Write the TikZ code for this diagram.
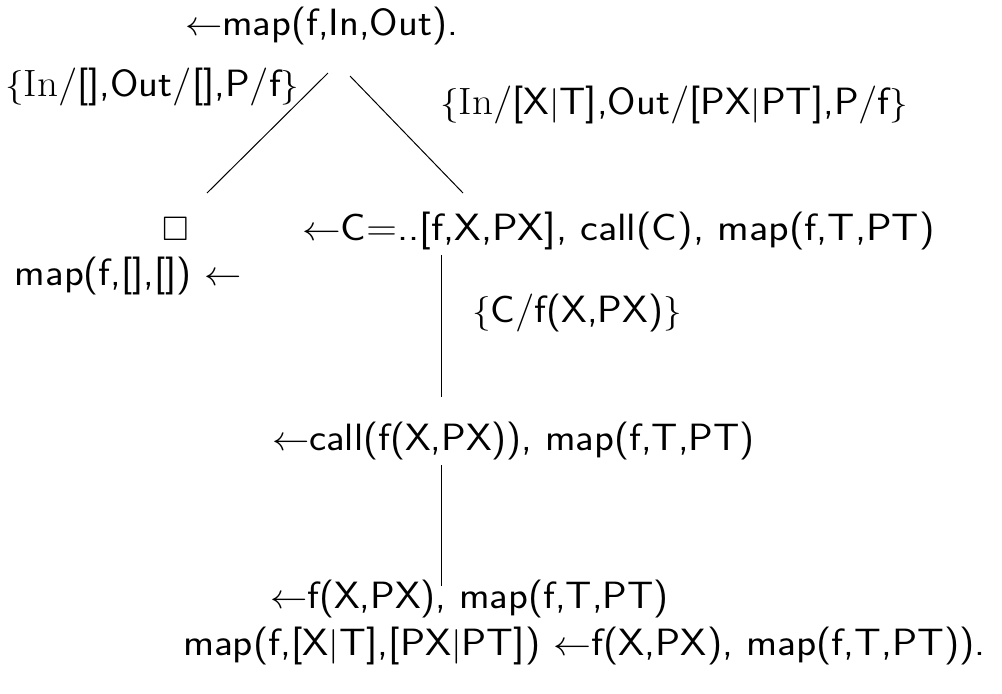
\documentclass[tikz,border=0pt]{standalone}
\usepackage{amssymb}
\usepackage{graphicx}
% slightly widened sans text
\newcommand{\wide}[1]{\scalebox{1.08}[1]{#1}}
\begin{document}
\begin{tikzpicture}[x=0.5pt,y=-0.5pt,
  txt/.style={font=\sffamily\fontsize{19}{22}\selectfont, inner sep=0pt, outer sep=0pt, anchor=base west},
  edge/.style={line width=0.5pt}]
\useasboundingbox (0,0) rectangle (1002,693);

% goals and clauses of the derivation
\node[txt] (root)  at (185,35)  {\wide{$\leftarrow$map(f,In,Out).}};
\node[txt] (subL)  at (5,96)    {\wide{$\{${\rmfamily In}/[],Out/[],P/f$\}$}};
\node[txt] (subR)  at (440,114) {\wide{$\{${\rmfamily In}/[X$|$T],Out/[PX$|$PT],P/f$\}$}};
\node[txt, anchor=center, font=\fontsize{17}{20}\selectfont] (empty) at (176,229) {$\Box$};
\node[txt] (goalC) at (302,240) {\scalebox{1.12}[1]{$\leftarrow$C=..[f,X,PX], call(C), map(f,T,PT)}};
\node[txt] (fact)  at (15,285)  {\wide{map(f,[],[]) $\leftarrow$}};
\node[txt] (subC)  at (472,322) {\wide{$\{$C/f(X,PX)$\}$}};
\node[txt] (goalK) at (272,450) {\wide{$\leftarrow$call(f(X,PX)), map(f,T,PT)}};
\node[txt] (goalF) at (270,608) {\wide{$\leftarrow$f(X,PX), map(f,T,PT)}};
\node[txt] (rule)  at (183,655) {\scalebox{1.10}[1]{map(f,[X$|$T],[PX$|$PT]) $\leftarrow$f(X,PX), map(f,T,PT)).}};

% branch end points
\coordinate (rL0) at (328,73);
\coordinate (rL1) at (207,193);
\coordinate (rR0) at (350,76);
\coordinate (rR1) at (463,193);
\coordinate (v10) at (441,255);
\coordinate (v11) at (441,397);
\coordinate (v20) at (441,465);
\coordinate (v21) at (441,586);

\draw[edge] (rL0) -- (rL1);
\draw[edge] (rR0) -- (rR1);
\draw[edge] (v10) -- (v11);
\draw[edge] (v20) -- (v21);
\end{tikzpicture}
\end{document}
